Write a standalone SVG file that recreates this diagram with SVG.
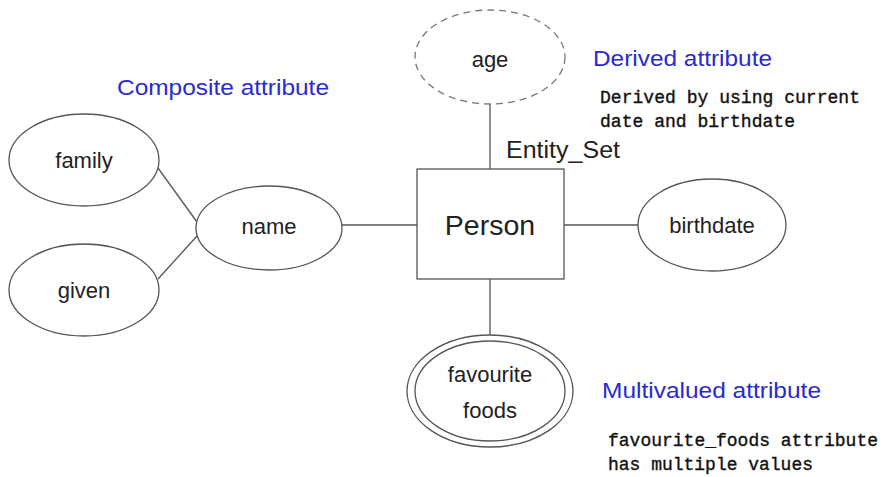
<svg xmlns="http://www.w3.org/2000/svg" width="883" height="477" viewBox="0 0 883 477">
  <style>
    .shape { fill: #fff; stroke: #555; stroke-width: 1.3; }
    .dashed { stroke-dasharray: 7 5; stroke: #777; }
    .link { stroke: #555; stroke-width: 1.3; fill: none; }
    .lbl { font-family: "Liberation Sans", Arial, sans-serif; font-size: 22px; fill: #222; text-anchor: middle; }
    .title { font-family: "Liberation Sans", Arial, sans-serif; font-size: 22.5px; fill: #2a2ad0; }
    .note { font-family: "Liberation Mono", "DejaVu Sans Mono", monospace; font-size: 17.5px; fill: #111; stroke: #111; stroke-width: 0.35; }
  </style>
  <rect width="883" height="477" fill="#fff"/>

  <g id="connectors">
    <line class="link" x1="490" y1="104" x2="490" y2="169"/>
    <line class="link" x1="342" y1="225" x2="417" y2="225"/>
    <line class="link" x1="564" y1="225" x2="638" y2="225"/>
    <line class="link" x1="490" y1="279" x2="490" y2="335"/>
    <line class="link" x1="158" y1="168" x2="197" y2="222"/>
    <line class="link" x1="158" y1="279" x2="197" y2="236"/>
  </g>

  <g id="age">
    <ellipse class="shape dashed" cx="490" cy="57" rx="75" ry="47"/>
    <text class="lbl" x="490" y="67">age</text>
  </g>

  <g id="person">
    <rect class="shape" x="417" y="169" width="147" height="110"/>
    <text class="lbl" x="490" y="235" style="font-size:28.5px">Person</text>
  </g>

  <g id="birthdate">
    <ellipse class="shape" cx="712" cy="225" rx="74" ry="46"/>
    <text class="lbl" x="712" y="233">birthdate</text>
  </g>

  <g id="name">
    <ellipse class="shape" cx="269" cy="228" rx="73" ry="42"/>
    <text class="lbl" x="269" y="234">name</text>
  </g>

  <g id="family">
    <ellipse class="shape" cx="84" cy="160" rx="75" ry="46"/>
    <text class="lbl" x="84" y="168">family</text>
  </g>

  <g id="given">
    <ellipse class="shape" cx="84" cy="290" rx="75" ry="46"/>
    <text class="lbl" x="84" y="298">given</text>
  </g>

  <g id="favourite_foods">
    <ellipse class="shape" cx="490" cy="391" rx="83" ry="56"/>
    <ellipse class="shape" cx="490" cy="391" rx="75" ry="50"/>
    <text class="lbl" x="490" y="382">favourite</text>
    <text class="lbl" x="490" y="418">foods</text>
  </g>

  <text x="506" y="158" style="font-family:'Liberation Sans',Arial,sans-serif;font-size:23px;fill:#222" textLength="114" lengthAdjust="spacingAndGlyphs">Entity_Set</text>

  <text class="title" x="117" y="95" textLength="212" lengthAdjust="spacingAndGlyphs">Composite attribute</text>
  <text class="title" x="593" y="66" textLength="179" lengthAdjust="spacingAndGlyphs">Derived attribute</text>
  <text class="title" x="602" y="398" textLength="219" lengthAdjust="spacingAndGlyphs">Multivalued attribute</text>

  <text class="note" x="600" y="103" textLength="260" lengthAdjust="spacingAndGlyphs">Derived by using current</text>
  <text class="note" x="600" y="127" textLength="195" lengthAdjust="spacingAndGlyphs">date and birthdate</text>
  <text class="note" x="608" y="446" textLength="270" lengthAdjust="spacingAndGlyphs">favourite_foods attribute</text>
  <text class="note" x="608" y="470" textLength="205" lengthAdjust="spacingAndGlyphs">has multiple values</text>
</svg>
